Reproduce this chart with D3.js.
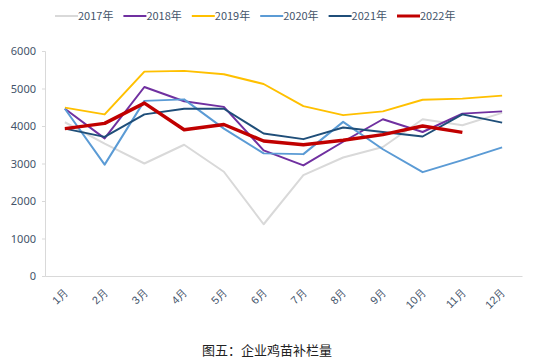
<!DOCTYPE html>
<html>
<head>
<meta charset="utf-8">
<script src="https://cdn.jsdelivr.net/npm/d3@7"></script>
<style>
  body { margin: 0; background: #fff; }
  svg { display: block; font-family: "Noto Sans CJK SC", "Noto Sans", sans-serif; }
</style>
</head>
<body>
<div class="svg-wrap"></div>
<script>
const width = 546;
const height = 359;

const months = ["1月","2月","3月","4月","5月","6月","7月","8月","9月","10月","11月","12月"];
const years = ["2017年","2018年","2019年","2020年","2021年","2022年"];
const yTicks = [0, 1000, 2000, 3000, 4000, 5000, 6000];

const v2017 = [4100, 3530, 3000, 3500, 2780, 1380, 2690, 3160, 3440, 4180, 4020, 4350];
const v2018 = [4460, 3670, 5040, 4660, 4510, 3350, 2950, 3580, 4180, 3840, 4330, 4390];
const v2019 = [4490, 4310, 5450, 5470, 5380, 5120, 4530, 4290, 4390, 4700, 4730, 4810];
const v2020 = [4460, 2970, 4670, 4710, 3930, 3270, 3250, 4110, 3380, 2770, 3090, 3430];
const v2021 = [3930, 3710, 4310, 4460, 4460, 3800, 3650, 3960, 3840, 3720, 4310, 4090];
const v2022 = [3930, 4070, 4610, 3900, 4040, 3600, 3500, 3620, 3770, 4000, 3830];

const colors = ["#d9d9d9", "#7030a0", "#ffc000", "#5b9bd5", "#1f4e79", "#c00000"];
const strokeWidths = [2, 2, 2, 2, 2, 3.5];
const series = [v2017, v2018, v2019, v2020, v2021, v2022];

const margin = { left: 45, right: 24, top: 51, bottom: 83 };
const labelColor = "#44546a";

let svg = d3.select(".svg-wrap")
  .append("svg")
  .attr("width", width)
  .attr("height", height);

let scaleX = d3.scaleBand()
  .domain(months)
  .range([margin.left, width - margin.right]);

let scaleY = d3.scaleLinear()
  .domain([0, 6000])
  .range([height - margin.bottom, margin.top]);

// y axis
let yAxis = svg.append("g")
  .attr("transform", `translate(${margin.left},0)`)
  .call(d3.axisLeft(scaleY).tickValues(yTicks).tickFormat(d3.format("d")).tickSize(3).tickPadding(6));
yAxis.select(".domain").attr("stroke", "#d9d9d9");
yAxis.selectAll(".tick line").attr("stroke", "#d9d9d9");
yAxis.selectAll("text")
  .attr("fill", labelColor)
  .style("font-size", "11px")
  .style("font-family", "'Noto Sans', sans-serif");

// x axis
let xAxis = svg.append("g")
  .attr("transform", `translate(0,${height - margin.bottom})`)
  .call(d3.axisBottom(scaleX).tickSize(0).tickPadding(0));
xAxis.select(".domain").attr("stroke", "#d9d9d9");
xAxis.selectAll("text")
  .attr("fill", labelColor)
  .style("font-size", "11px")
  .attr("text-anchor", "end")
  .attr("dy", 0)
  .attr("transform", "translate(4,17) rotate(-45)");

// lines
let line = d3.line()
  .x((d, i) => scaleX(months[i]) + scaleX.bandwidth() / 2)
  .y(d => scaleY(d));

series.forEach((s, k) => {
  svg.append("path")
    .datum(s)
    .attr("fill", "none")
    .attr("stroke", colors[k])
    .attr("stroke-width", strokeWidths[k])
    .attr("stroke-linejoin", "round")
    .attr("d", line);
});

// legend
let legend = svg.append("g").attr("transform", "translate(55,16)");
years.forEach((y, k) => {
  let g = legend.append("g").attr("transform", `translate(${k * 68.4},0)`);
  g.append("line")
    .attr("x1", 0).attr("x2", 23)
    .attr("stroke", colors[k])
    .attr("stroke-width", k === 5 ? 3 : 2);
  g.append("text")
    .attr("x", 23)
    .attr("y", 4)
    .attr("fill", labelColor)
    .style("font-size", "11px")
    .text(y);
});

// caption
svg.append("text")
  .attr("x", 267)
  .attr("y", 355)
  .attr("text-anchor", "middle")
  .attr("fill", "#222")
  .style("font-size", "13px")
  .text("图五：企业鸡苗补栏量");
</script>
</body>
</html>
